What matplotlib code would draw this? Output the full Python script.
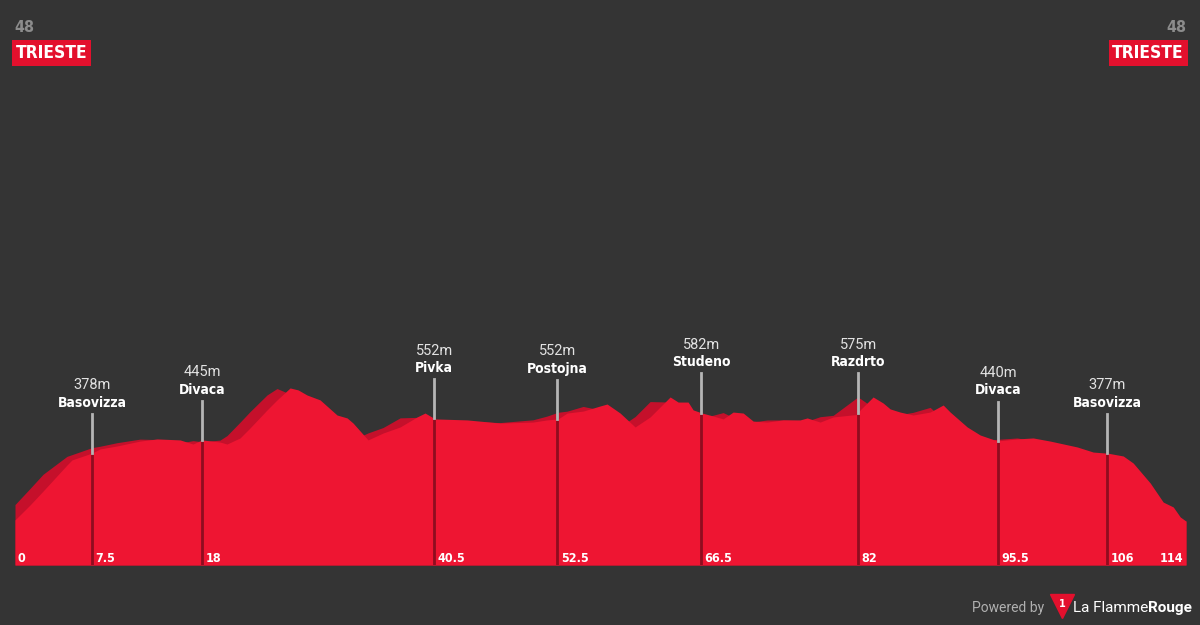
import numpy as np
import matplotlib
matplotlib.use("Agg")
import matplotlib.pyplot as plt

# elevation profile (km, m)
km = [0, 1.46, 2.73, 5.06, 5.55, 7.5, 8.28, 9.93, 12.17, 13.83, 16.07, 17.33,
      18.21, 19.96, 20.64, 21.91, 22.88, 24.54, 25.51, 26.78, 27.56, 28.43,
      29.70, 31.35, 32.33, 32.91, 34.37, 35.83, 37.49, 39.14, 39.92, 40.90,
      44.01, 47.22, 50.44, 51.80, 52.87, 53.75, 55.31, 56.96, 57.64, 58.91,
      60.37, 61.83, 63.78, 64.56, 65.53, 66.02, 66.89, 67.96, 68.94, 69.91,
      70.89, 71.86, 73.22, 74.78, 76.44, 77.12, 78.38, 79.65, 81.99, 82.28,
      83.54, 84.52, 85.20, 86.17, 87.44, 89.09, 90.36, 91.04, 92.70, 93.96,
      95.62, 97.57, 99.12, 100.78, 103.41, 104.97, 106.43, 107.89, 108.86,
      110.52, 111.78, 112.76, 113.44, 114]
elev = [37, 113, 184, 317, 343, 378, 399, 414, 439, 450, 445, 424,
        445, 434, 424, 455, 506, 598, 649, 710, 700, 674,
        649, 572, 557, 531, 445, 480, 511, 562, 582, 552,
        547, 531, 536, 547, 552, 582, 592, 618, 628, 582,
        511, 562, 664, 638, 638, 598, 582, 567, 552, 587,
        582, 541, 536, 547, 547, 557, 536, 562, 575, 598,
        664, 633, 603, 587, 572, 587, 623, 587, 511, 470,
        440, 450, 455, 439, 409, 383, 377, 363, 327,
        225, 128, 103, 52, 31]

# waypoints
wp_km = [7.5, 18.2, 40.8, 52.8, 66.8, 82.1, 95.7, 106.3]
wp_lbl = ["7.5", "18", "40.5", "52.5", "66.5", "82", "95.5", "106"]
wp_name = ["Basovizza", "Divaca", "Pivka", "Postojna", "Studeno", "Razdrto",
           "Divaca", "Basovizza"]
wp_elev = [378, 445, 552, 552, 582, 575, 440, 377]

start_name = "TRIESTE"
finish_name = "TRIESTE"
stage_no = "48"
total_km = 114

BG = "#343434"
RED = "#ee1532"
SHADOW = "#c5102b"
cond = dict(family="DejaVu Sans", fontstretch="condensed", fontweight="bold")
thin = ["Roboto", "DejaVu Sans"]

km = np.array(km)
elev = np.array(elev)
base = -193

fig = plt.figure(figsize=(12, 6.25), dpi=100, facecolor=BG)
ax = fig.add_axes([15 / 1200, 60 / 625, 1171 / 1200, 565 / 625])
ax.set_facecolor(BG)
ax.set_xlim(0, total_km)
ax.set_ylim(base, base + 565 * 5.1)
ax.axis("off")

# shadow = profile shifted a bit to the left
shadow = np.interp(km + 1.5, km, elev)
ax.fill_between(km, base, shadow, color=SHADOW, lw=0, zorder=1)
ax.fill_between(km, base, elev, color=RED, lw=0, zorder=2)

for x, lbl, name, e in zip(wp_km, wp_lbl, wp_name, wp_elev):
    h = np.interp(x, km, elev)
    ax.plot([x, x], [base, h], color="#8e0d1f", lw=2, zorder=3)
    ax.plot([x, x], [h, h + 200], color="#b5b5b5", lw=2, zorder=3)
    ax.annotate(name, (x, h + 200), xytext=(0, 8), textcoords="offset points",
                ha="center", va="center", color="white", fontsize=10, **cond)
    ax.annotate(f"{e}m", (x, h + 200), xytext=(0, 20.5), textcoords="offset points",
                ha="center", va="center", color="#e2e2e2", fontsize=10.5,
                family=thin)
    ax.annotate(lbl, (x, base), xytext=(2.5, 5), textcoords="offset points",
                ha="left", va="center", color="white", fontsize=9, **cond)

ax.annotate("0", (0, base), xytext=(1.5, 5), textcoords="offset points",
            ha="left", va="center", color="white", fontsize=9, **cond)
ax.annotate(str(total_km), (total_km, base), xytext=(-2, 5), textcoords="offset points",
            ha="right", va="center", color="white", fontsize=9, **cond)

# start / finish headers
fig.text(14 / 1200, 1 - 28 / 625, stage_no, color="#8c8c8c", fontsize=11.5,
         ha="left", va="center", **cond)
fig.text(1186 / 1200, 1 - 28 / 625, stage_no, color="#8c8c8c", fontsize=11.5,
         ha="right", va="center", **cond)
box = dict(boxstyle="square,pad=0.22", fc="#e3102d", ec="none")
fig.text(16 / 1200, 1 - 53 / 625, start_name, color="white", fontsize=12.5,
         ha="left", va="center", bbox=box, **cond)
fig.text(1184 / 1200, 1 - 53 / 625, finish_name, color="white", fontsize=12.5,
         ha="right", va="center", bbox=box, **cond)

# footer
fig.text(1044 / 1200, 1 - 608 / 625, "Powered by", color="#b0b0b0", fontsize=10,
         family=thin, ha="right", va="center")
fig.lines.append(plt.Line2D([1062 / 1200], [1 - 606 / 625], marker="v", ms=17,
                            color="#e3102d", transform=fig.transFigure))
fig.text(1062 / 1200, 1 - 604 / 625, "1", color="white", fontsize=7,
         fontweight="bold", ha="center", va="center")
t1 = fig.text(1073 / 1200, 1 - 608 / 625, "La Flamme", color="white", fontsize=11,
              family=thin, ha="left", va="center")
t2 = fig.text(0, 1 - 608 / 625, "Rouge", color="white", fontsize=11,
              fontweight="bold", family=thin, ha="left", va="center")
fig.canvas.draw()
bb = t1.get_window_extent()
t2.set_position((bb.x1 / 1200, 1 - 608 / 625))

fig.savefig("out.png", dpi=100, facecolor=BG)
